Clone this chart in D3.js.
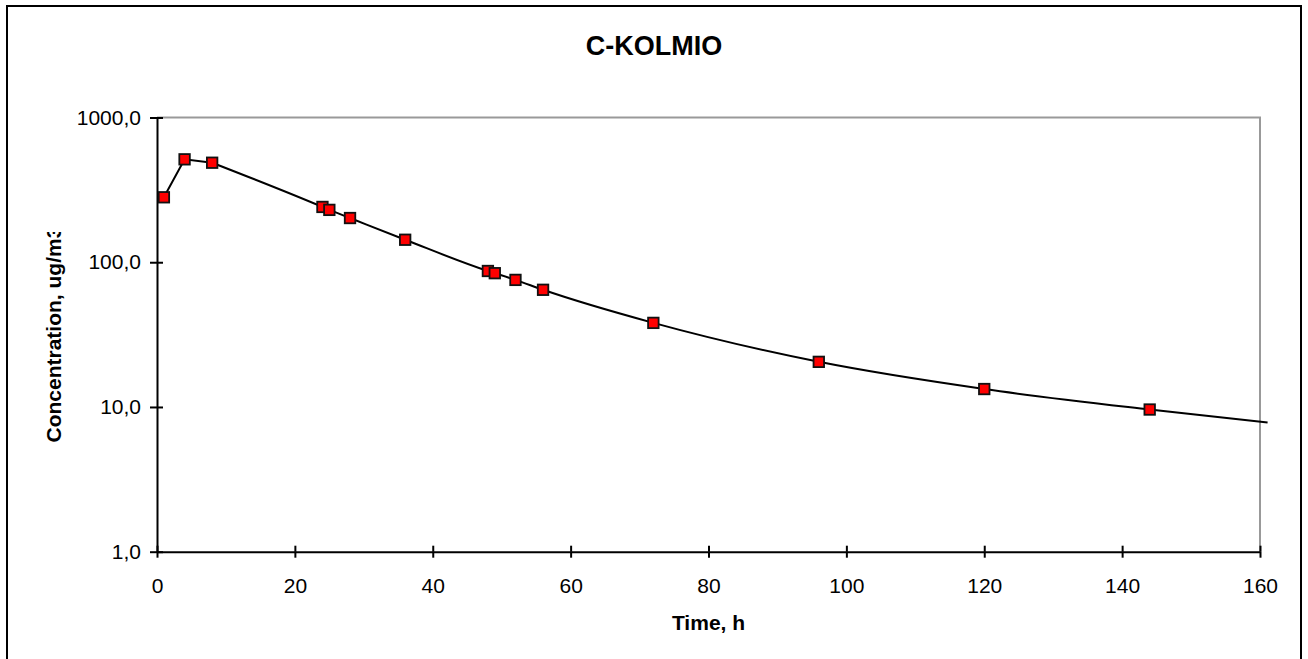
<!DOCTYPE html>
<html>
<head>
<meta charset="utf-8">
<script src="https://cdn.jsdelivr.net/npm/d3@7"></script>
<style>
  html, body { margin: 0; padding: 0; background: #fff; }
  svg { display: block; }
  text { font-family: "Liberation Sans", Arial, sans-serif; fill: #000; }
</style>
</head>
<body>
<svg id="chart" width="1308" height="659"></svg>
<script>
// ---- data ----
const times = [1, 4, 8, 24, 25, 28, 36, 48, 49, 52, 56, 72, 96, 120, 144];
const conc  = [281, 514, 487, 241, 230, 202, 143, 87, 84, 75.5, 64.5, 38.1, 20.5, 13.3, 9.6];
// fitted curve drawn through the points (extends past the last sample)
const fitTimes = [1, 4, 8, 24, 25, 28, 36, 48, 49, 52, 56, 72, 96, 120, 144, 161.1];
const fitConc  = [281, 514, 487, 241, 230, 202, 143, 87, 84, 75.5, 64.5, 38.1, 20.5, 13.3, 9.6, 7.8];
const xTicks = [0, 20, 40, 60, 80, 100, 120, 140, 160];
const yTicks = [1, 10, 100, 1000];
const yTickLabels = ["1,0", "10,0", "100,0", "1000,0"];
const titleText = "C-KOLMIO";
const xTitle = "Time, h";
const yTitle = "Concentration, ug/m3";

const svg = d3.select("#chart");
const L = 157, R = 1260, T = 117.5, B = 551.7;
const x = d3.scaleLinear().domain([0, 160]).range([L, R]);
const y = d3.scaleLog().domain([1, 1000]).range([B, T]);

// outer frame
svg.append("rect").attr("x", 7).attr("y", 6).attr("width", 1294).attr("height", 700)
  .attr("fill", "none").attr("stroke", "#000").attr("stroke-width", 2);

// plot area top/right border
svg.append("path")
  .attr("d", `M${L},${T}H${R}V${B}`)
  .attr("fill", "none").attr("stroke", "#999").attr("stroke-width", 2);

// axes
const fs = 21;
svg.append("g").attr("transform", `translate(0,${B})`)
  .call(d3.axisBottom(x).tickValues(xTicks).tickFormat(d3.format("d"))
        .tickSize(6).tickSizeOuter(0).tickPadding(20));
svg.append("g").attr("transform", `translate(0,${B})`)
  .call(d3.axisBottom(x).tickValues(xTicks).tickFormat("").tickSize(-6).tickSizeOuter(0))
  .select(".domain").remove();
svg.append("g").attr("transform", `translate(${L},0)`)
  .call(d3.axisLeft(y).tickValues(yTicks).tickFormat((d, i) => yTickLabels[i])
        .tickSize(7).tickSizeOuter(0).tickPadding(9));
svg.append("g").attr("transform", `translate(${L},0)`)
  .call(d3.axisLeft(y).tickValues(yTicks).tickFormat("").tickSize(-6).tickSizeOuter(0))
  .select(".domain").remove();

svg.selectAll(".tick line, .domain").attr("stroke", "#000").attr("stroke-width", 2);
svg.selectAll(".tick text").attr("font-size", fs).attr("font-family", "Liberation Sans, Arial, sans-serif").attr("fill", "#000");

// line
const pts = fitTimes.map((t, i) => [x(t), y(fitConc[i])]);
const lin = d3.line();
const smooth = d3.line().curve(d3.curveMonotoneX);
svg.append("path").attr("d", lin(pts.slice(0, 3)))
  .attr("fill", "none").attr("stroke", "#000").attr("stroke-width", 2);
svg.append("path").attr("d", smooth(pts.slice(2)))
  .attr("fill", "none").attr("stroke", "#000").attr("stroke-width", 2);

// markers
const ms = 10.5;
svg.append("g").selectAll("rect").data(times).join("rect")
  .attr("x", (d) => x(d) - ms / 2)
  .attr("y", (d, i) => y(conc[i]) - ms / 2)
  .attr("width", ms).attr("height", ms)
  .attr("fill", "#ff0000").attr("stroke", "#111").attr("stroke-width", 1.8);

// titles
svg.append("text").attr("x", 654).attr("y", 55).attr("text-anchor", "middle")
  .attr("font-size", 27).attr("font-weight", "bold").text(titleText);
svg.append("text").attr("x", (L + R) / 2).attr("y", 630).attr("text-anchor", "middle")
  .attr("font-size", fs).attr("font-weight", "bold").text(xTitle);

const defs = svg.append("defs");
defs.append("clipPath").attr("id", "yclip").attr("clipPathUnits", "userSpaceOnUse")
  .append("rect").attr("x", 0).attr("y", 232).attr("width", 140).attr("height", 400);
svg.append("g").attr("clip-path", "url(#yclip)")
  .append("text").attr("transform", `translate(61,${(T + B) / 2}) rotate(-90)`)
  .attr("text-anchor", "middle").attr("font-size", fs).attr("font-weight", "bold")
  .text(yTitle);
</script>
</body>
</html>
